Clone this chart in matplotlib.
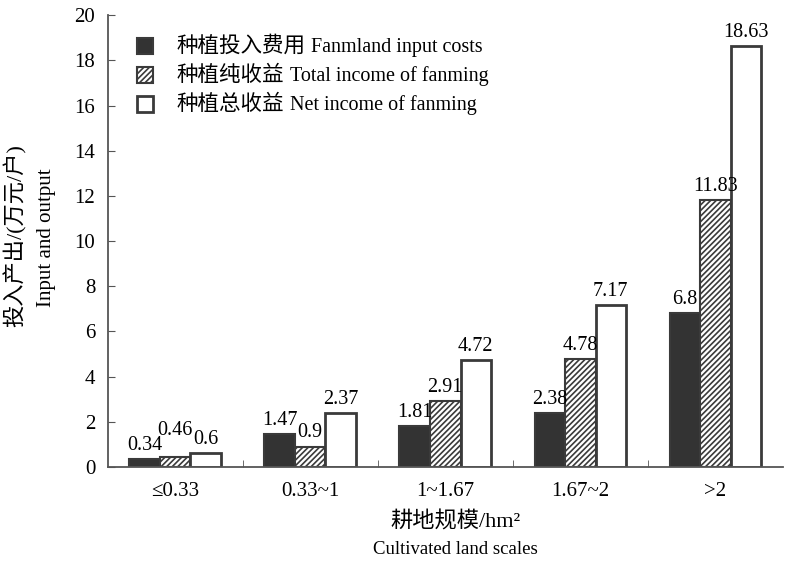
import matplotlib
matplotlib.use("Agg")
import matplotlib.pyplot as plt
import numpy as np
from matplotlib.offsetbox import AnchoredOffsetbox, VPacker, HPacker, TextArea, DrawingArea
from matplotlib.patches import Rectangle

plt.rcParams['font.family'] = ['Liberation Serif', 'Noto Sans CJK SC', 'DejaVu Sans']
plt.rcParams['hatch.linewidth'] = 1.2

categories = ["≤0.33", "0.33~1", "1~1.67", "1.67~2", ">2"]
input_costs = [0.34, 1.47, 1.81, 2.38, 6.8]
total_income = [0.46, 0.9, 2.91, 4.78, 11.83]
net_income = [0.6, 2.37, 4.72, 7.17, 18.63]
series_cn = ["种植投入费用", "种植纯收益", "种植总收益"]
series_en = ["Fanmland input costs", "Total income of fanming", "Net income of fanming"]
yticks = [0, 2, 4, 6, 8, 10, 12, 14, 16, 18, 20]

fig = plt.figure(figsize=(7.86, 5.64), dpi=100)
ax = fig.add_axes([0.137, 0.172, 0.859, 0.801])

x = np.arange(len(categories))
w = 0.226
edge = '#3a3a3a'
dark = '#333333'
cn_font = ['Noto Sans CJK SC']
en_font = ['Liberation Serif']

styles = [dict(color=dark, hatch=None, lw=1.5),
          dict(color='white', hatch='//////', lw=1.5),
          dict(color='white', hatch=None, lw=2.0)]
series = [input_costs, total_income, net_income]
offsets = [-w, 0, w]

labels = [[] for _ in categories]
for vals, st, off in zip(series, styles, offsets):
    bars = ax.bar(x + off, vals, w, color=st['color'], edgecolor=edge,
                  hatch=st['hatch'], linewidth=st['lw'])
    for i, (rect, v) in enumerate(zip(bars, vals)):
        ann = ax.annotate(f"{v:g}", (rect.get_x() + rect.get_width() / 2, v),
                          xytext=(0, 3), textcoords='offset points',
                          ha='center', va='bottom', fontsize=14.5)
        labels[i].append(ann)

ax.set_xlim(-0.5, 4.5)
ax.set_ylim(0, 20)
ax.set_yticks(yticks)
ax.set_xticks(x)
ax.set_xticklabels(categories, fontsize=15)
ax.set_xticks(x[:-1] + 0.5, minor=True)
ax.tick_params(axis='x', which='major', length=0, pad=10.5)
ax.tick_params(axis='x', which='minor', direction='in', length=5, color='#555555')
ax.tick_params(axis='y', direction='in', length=5, color='#555555', labelsize=15, pad=9)

for s in ('top', 'right'):
    ax.spines[s].set_visible(False)
for s in ('left', 'bottom'):
    ax.spines[s].set_color('#555555')
    ax.spines[s].set_linewidth(1.3)

# axis titles
fig.text(0.579, 1 - 522 / 564, "耕地规模/hm²", ha='center', va='center', fontsize=16)
fig.text(0.579, 1 - 549 / 564, "Cultivated land scales", ha='center', va='center', fontsize=13.5,
         family=en_font)
fig.text(15 / 786, 1 - 236 / 564, "投入产出/(万元/户)", ha='center', va='center', fontsize=16,
         rotation=90)
fig.text(47 / 786, 1 - 238 / 564, "Input and output", ha='center', va='center', fontsize=15,
         rotation=90, family=en_font)

# legend
rows = []
for cn, en, st in zip(series_cn, series_en, styles):
    da = DrawingArea(11.5, 11.5, 0, 0)
    da.add_artist(Rectangle((0, 0), 11.5, 11.5, facecolor=st['color'], edgecolor=edge,
                            hatch=st['hatch'], linewidth=st['lw']))
    t1 = TextArea(cn, textprops=dict(fontsize=15.5, family=cn_font))
    t2 = TextArea(en, textprops=dict(fontsize=14.5, family=en_font))
    txt = HPacker(children=[t1, t2], align='baseline', pad=0, sep=4)
    rows.append(HPacker(children=[da, txt], align='center', pad=0, sep=17))
box = VPacker(children=rows, align='left', pad=0, sep=5.2)
leg = AnchoredOffsetbox(loc='upper left', child=box, frameon=False, pad=0, borderpad=0,
                        bbox_to_anchor=(137 / 786, 1 - 35 / 564), bbox_transform=fig.transFigure)
ax.add_artist(leg)

# lift value labels that would collide with the label of the bar to their left
fig.canvas.draw()
renderer = fig.canvas.get_renderer()
for group in labels:
    placed = []
    for ann in group:
        bb = ann.get_window_extent(renderer)
        shift = 0.0
        for pb in placed:
            if (bb.x0 + 2 < pb.x1 - 2) and (pb.x0 + 2 < bb.x1 - 2) and \
               (bb.y0 + shift < pb.y1) and (pb.y0 < bb.y1 + shift):
                shift = max(shift, pb.y1 - bb.y0 - 4)
        if shift > 0:
            ann.xyann = (0, 3 + shift * 72 / fig.dpi)
            fig.canvas.draw()
            bb = ann.get_window_extent(renderer)
        placed.append(bb)

fig.savefig("out.png", dpi=100)
